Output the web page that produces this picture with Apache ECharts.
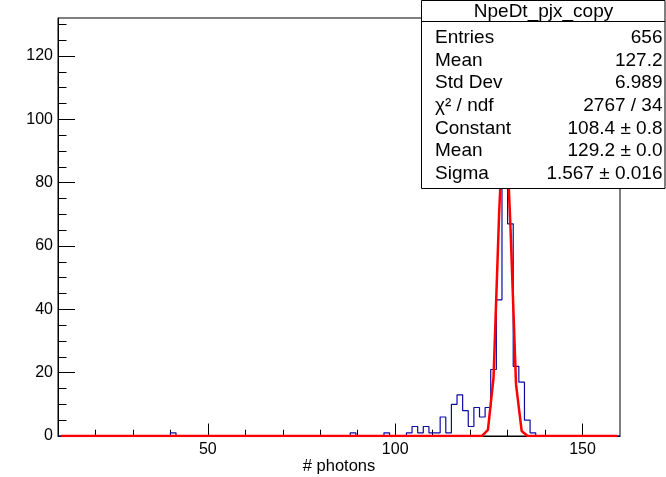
<!DOCTYPE html>
<html><head><meta charset="utf-8">
<script src="https://cdn.jsdelivr.net/npm/echarts@6/dist/echarts.min.js"></script>
<style>html,body{margin:0;padding:0;background:#fff;}#c{width:666px;height:477px;}</style>
</head><body><div id="c"></div>
<script>
// ---- data ----
const histLow = 10;          // first bin low edge
const binWidth = 1.5;        // 100 bins over [10,160]
const counts = [
  0,0,0,0,0,0,0,0,0,0,
  0,0,0,0,0,0,0,0,0,0,
  1,0,0,0,0,0,0,0,0,0,
  0,0,0,0,0,0,0,0,0,0,
  0,0,0,0,0,0,0,0,0,0,
  0,0,1,0,0,0,0,0,1,0,
  0,0,1,3,1,3,1,1,6,1,
  10,13,8,3,9,6,9,21,43,126,
  67,22,17,5,1,0,0,0,0,0,
  0,0,0,0,0,0,0,0,0,0
];
// fit curve samples (x, y) as drawn in the picture
const fitX = [10.75, 121.75, 123.25, 124.75, 126.25, 127.75, 129.25, 130.75, 132.25, 133.75, 135.25, 136.75, 159.25];
const fitY = [0, 0, 0.1, 1.9, 18.4, 70.7, 108.4, 66.5, 16.3, 1.6, 0.1, 0, 0];

const xRange = [10, 160];
const yRange = [0, 132];
const xTickLabels = [50, 100, 150];
const xMinorTicks = [20, 30, 40, 60, 70, 80, 90, 110, 120, 130, 140];
const yTickLabels = [0, 20, 40, 60, 80, 100, 120];
const yMinorTicks = [5,10,15,25,30,35,45,50,55,65,70,75,85,90,95,105,110,115,125,130];
const xTitle = '# photons';

const statsTitle = 'NpeDt_pjx_copy';
const statsNames = ['Entries', 'Mean', 'Std Dev', 'χ² / ndf', 'Constant', 'Mean', 'Sigma'];
const statsValues = ['656', '127.2', '6.989', '2767 / 34', '108.4 ± 0.8', '129.2 ± 0.0', '1.567 ± 0.016'];

// ---- build ----
const FONT = '"Liberation Sans", Arial, Helvetica, sans-serif';
const histPts = [];
counts.forEach((c, i) => {
  const lo = histLow + i * binWidth;
  histPts.push([lo, c], [lo + binWidth, c]);
});
const fitPts = fitX.map((x, i) => [x, fitY[i]]);

const chart = echarts.init(document.getElementById('c'), null, {renderer: 'canvas'});

const gTexts = [];
gTexts.push({type: 'rect', shape: {x: 421.5, y: 0.5, width: 243.5, height: 188}, style: {fill: '#fff', stroke: '#000', lineWidth: 1}, z: 100});
gTexts.push({type: 'line', shape: {x1: 421.5, y1: 21.5, x2: 665, y2: 21.5}, style: {stroke: '#000', lineWidth: 1}, z: 101});
gTexts.push({type: 'text', x: 543.5, y: 12, style: {text: statsTitle, font: '19px ' + FONT, fill: '#000', textAlign: 'center', textVerticalAlign: 'middle'}, z: 101});
statsNames.forEach((n, i) => {
  const y = 38 + i * 22.6;
  gTexts.push({type: 'text', x: 435, y: y, style: {text: n, font: '19px ' + FONT, fill: '#000', textAlign: 'left', textVerticalAlign: 'middle'}, z: 101});
  gTexts.push({type: 'text', x: 662.5, y: y, style: {text: statsValues[i], font: '19px ' + FONT, fill: '#000', textAlign: 'right', textVerticalAlign: 'middle'}, z: 101});
});

const axisBase = {min: xRange[0], max: xRange[1], splitLine: {show: false}};
chart.setOption({
  animation: false,
  backgroundColor: '#fff',
  grid: {left: 58, top: 18, width: 562, height: 418, outerBoundsMode: 'none', containLabel: false,
    show: true, borderColor: '#000', borderWidth: 1, backgroundColor: 'transparent'},
  xAxis: [
    Object.assign({}, axisBase, {type: 'value', position: 'bottom',
      axisLine: {show: true, onZero: false, lineStyle: {color: '#000', width: 1}},
      axisTick: {show: true, inside: true, length: 12.5, customValues: xTickLabels, lineStyle: {color: '#000', width: 1}},
      axisLabel: {show: true, customValues: xTickLabels, margin: 6, color: '#000', fontSize: 16, fontFamily: FONT},
      name: xTitle, nameLocation: 'middle', nameGap: 22, nameMoveOverlap: false,
      nameTextStyle: {color: '#000', fontSize: 16.5, fontFamily: FONT}
    }),
    Object.assign({}, axisBase, {type: 'value', position: 'bottom',
      axisLine: {show: false, onZero: false},
      axisTick: {show: true, inside: true, length: 6.3, customValues: xMinorTicks, lineStyle: {color: '#000', width: 1}},
      axisLabel: {show: false}
    })
  ],
  yAxis: [
    {type: 'value', min: yRange[0], max: yRange[1], position: 'left', splitLine: {show: false},
      axisLine: {show: true, onZero: false, lineStyle: {color: '#000', width: 1}},
      axisTick: {show: true, inside: true, length: 17, customValues: yTickLabels, lineStyle: {color: '#000', width: 1}},
      axisLabel: {show: true, customValues: yTickLabels, margin: 5, color: '#000', fontSize: 16, fontFamily: FONT}
    },
    {type: 'value', min: yRange[0], max: yRange[1], position: 'left', splitLine: {show: false},
      axisLine: {show: false, onZero: false},
      axisTick: {show: true, inside: true, length: 8.5, customValues: yMinorTicks, lineStyle: {color: '#000', width: 1}},
      axisLabel: {show: false}
    }
  ],
  series: [
    {type: 'line', name: 'hist', xAxisIndex: 0, yAxisIndex: 0, data: histPts, showSymbol: false, symbol: 'none',
      lineStyle: {color: '#0b0ba3', width: 1.2}, z: 3, silent: true},
    {type: 'line', name: 'fit', xAxisIndex: 0, yAxisIndex: 0, data: fitPts, showSymbol: false, symbol: 'none',
      lineStyle: {color: '#ff0000', width: 2.5}, z: 4, silent: true}
  ],
  graphic: gTexts
});
</script></body></html>
